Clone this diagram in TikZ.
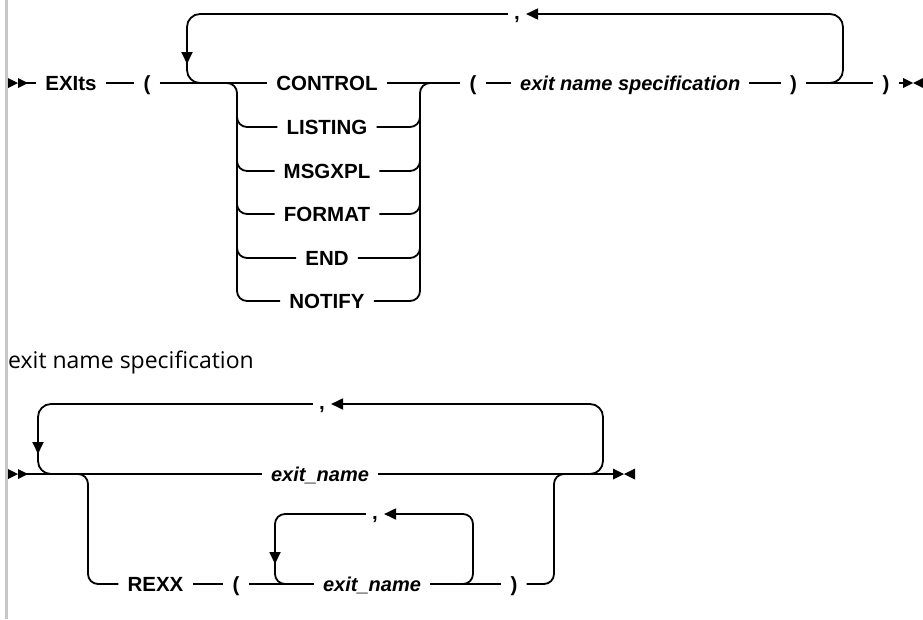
\documentclass[tikz,border=0pt]{standalone}
\usepackage{fontspec}
\setmainfont{Liberation Sans}
\newfontfamily\labelfont{Open Sans}
\usetikzlibrary{arrows.meta}
\begin{document}
\begin{tikzpicture}[x=1pt,y=-1pt,
  ln/.style={line width=1.8pt},
  rc/.style={rounded corners=10pt},
  rcl/.style={rounded corners=13pt},
  kw/.style={font=\fontsize{20.5}{24}\selectfont\bfseries, inner xsep=9pt, inner ysep=0pt, text height=18.4pt, text depth=3.7pt},
  vr/.style={kw, font=\fontsize{20}{24}\selectfont\bfseries\itshape},
  sepnode/.style={kw, inner xsep=6pt},
  arr/.style={-{Triangle[length=12pt,width=11pt]}},
  lbl/.style={font=\labelfont\fontsize{23}{27}\selectfont, inner sep=0pt, anchor=base west},
]
\useasboundingbox (0,0) rectangle (923,619);
\fill[black!22] (5,0) rectangle (8,619);

% ---------- top diagram ----------
\coordinate (st1) at (8,83);
\coordinate (st1e) at (26,83);
\fill (st1) ++(0,-5) -- ++(10,5) -- ++(-10,5) -- cycle;
\fill (st1) ++(10,-5) -- ++(10,5) -- ++(-10,5) -- cycle;

\node[kw] (exits) at (71,83) {EXIts};
\node[kw] (lp1) at (147,83) {(};
\node[kw] (control) at (327,83) {CONTROL};
\node[kw] (listing) at (327,127) {LISTING};
\node[kw] (msgxpl) at (327,171) {MSGXPL};
\node[kw] (format) at (327,214) {FORMAT};
\node[kw] (endk) at (327,258) {END};
\node[kw] (notify) at (327,301) {NOTIFY};
\node[kw] (lp2) at (473,83) {(};
\node[vr, anchor=west] (esp) at (511,83) {exit name specification\hspace{4pt}};
\node[kw] (rp1) at (793.5,83) {)};
\node[kw] (rp2) at (886,83) {)};
\coordinate (e1) at (903,83);
\fill (e1) ++(0,-5) -- ++(10,5) -- ++(-10,5) -- cycle;
\fill (e1) ++(20,-5) -- ++(-10,5) -- ++(10,5) -- cycle;
\node[sepnode] (c1) at (517,14) {\raisebox{2pt}{,}};

\draw[ln] (st1e) -- (exits);
\draw[ln] (exits) -- (lp1);
\draw[ln] (lp1) -- (control);
\draw[ln] (control) -- (lp2);
\draw[ln] (lp2) -- (esp);
\draw[ln] (esp) -- (rp1);
\draw[ln] (rp1) -- (rp2);
\draw[ln] (rp2) -- (e1);

% repeat loop
\coordinate (t1r) at (819,83);
\coordinate (t1a) at (187,64);
\coordinate (t1b) at (187,58);
\coordinate (t1l) at (211,83);
\draw[ln,rcl,arr] (t1r) -| (843,14) -- (c1.east);
\draw[ln,rcl,arr] (c1.west) -| (t1a);
\draw[ln,rcl] (t1b) |- (t1l);

% choice bracket
\coordinate (b1l) at (227,83);
\coordinate (b1r) at (430,83);
\draw[ln,rc] (b1l) -| (237,301) -- (notify.west);
\foreach \n/\y in {listing/127,msgxpl/171,format/214,endk/258}{
  \draw[ln,rc] (237,\y-20) |- (\n.west);
  \draw[ln,rc] (\n.east) -| (420,\y-20);
}
\draw[ln,rc] (notify.east) -| (420,83) -- (b1r);

% ---------- second diagram ----------
\node[lbl] (title) at (8,368) {exit name specification};

\coordinate (st2) at (8,474);
\coordinate (st2e) at (26,474);
\fill (st2) ++(0,-5) -- ++(10,5) -- ++(-10,5) -- cycle;
\fill (st2) ++(10,-5) -- ++(10,5) -- ++(-10,5) -- cycle;
\coordinate (e2) at (613,474);
\fill (e2) ++(0,-5.5) -- ++(11,5.5) -- ++(-11,5.5) -- cycle;
\fill (e2) ++(22,-5.5) -- ++(-11,5.5) -- ++(11,5.5) -- cycle;

\node[vr] (en1) at (320,474) {exit\_name};
\node[sepnode] (c2) at (322,404) {\raisebox{2pt}{,}};
\draw[ln] (st2e) -- (en1);
\draw[ln] (en1) -- (e2);

\coordinate (t2r) at (579,474);
\coordinate (t2a) at (38,454);
\coordinate (t2b) at (38,448);
\coordinate (t2l) at (62,474);
\draw[ln,rcl,arr] (t2r) -| (603,404) -- (c2.east);
\draw[ln,rcl,arr] (c2.west) -| (t2a);
\draw[ln,rcl] (t2b) |- (t2l);

\node[kw] (rexx) at (155.5,584) {REXX};
\node[kw] (lp3) at (236,584) {(};
\node[vr] (en2) at (372,584) {exit\_name};
\node[kw] (rp3) at (514,584) {)};
\node[sepnode] (c3) at (375,514) {\raisebox{2pt}{,}};

\coordinate (b2l) at (78,474);
\coordinate (b2r) at (564,474);
\draw[ln,rc] (b2l) -| (88,584) -- (rexx);
\draw[ln] (rexx) -- (lp3);
\draw[ln] (lp3) -- (en2);
\draw[ln] (en2) -- (rp3);
\draw[ln,rc] (rp3) -| (554,474) -- (b2r);

\coordinate (t3r) at (451,584);
\coordinate (t3a) at (275,564);
\coordinate (t3b) at (275,558);
\coordinate (t3l) at (297,584);
\draw[ln,rc,arr] (t3r) -| (473,514) -- (c3.east);
\draw[ln,rc,arr] (c3.west) -| (t3a);
\draw[ln,rc] (t3b) |- (t3l);
\end{tikzpicture}
\end{document}
